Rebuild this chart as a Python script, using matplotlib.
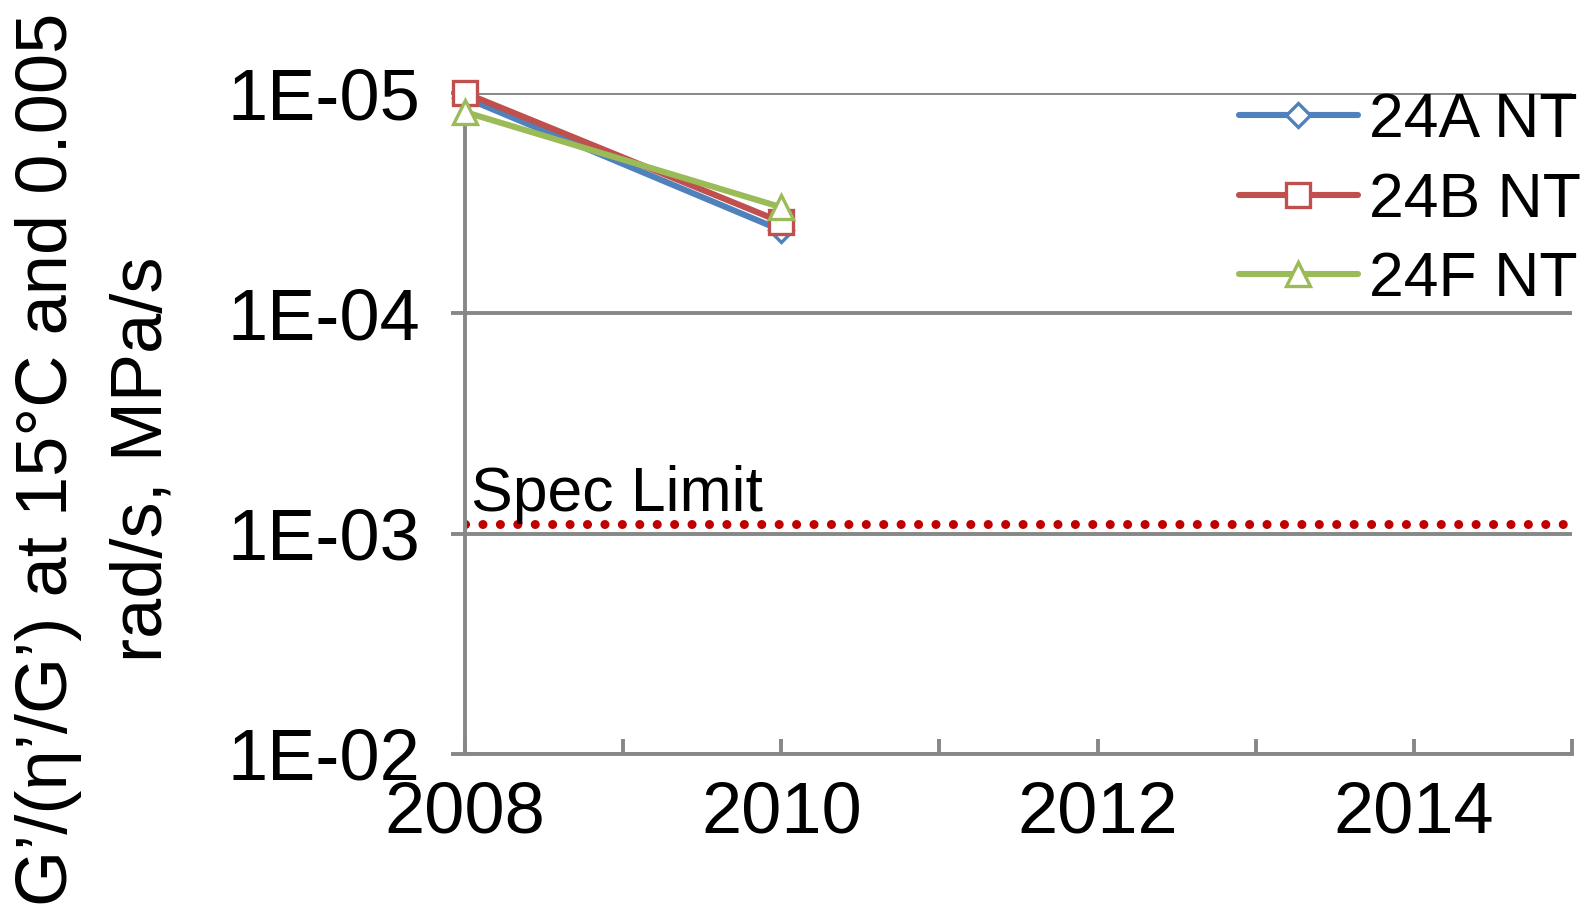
import matplotlib
matplotlib.use("Agg")
import matplotlib.pyplot as plt
from matplotlib.ticker import FixedLocator, MultipleLocator, FuncFormatter

plt.rcParams['font.family'] = ['Liberation Sans', 'DejaVu Sans']

# ---- data ----
series_names = ["24A NT", "24B NT", "24F NT"]
years = [2008, 2010]
values_24A = [1.05e-5, 4.2e-5]
values_24B = [1.0e-5, 3.85e-5]
values_24F = [1.22e-5, 3.3e-5]
spec_limit = 9.0e-4
spec_label = "Spec Limit"
y_ticks = [1e-5, 1e-4, 1e-3, 1e-2]
x_major = [2008, 2010, 2012, 2014]
ylabel = "G’/(η’/G’) at 15°C and 0.005\nrad/s, MPa/s"

colors = ["#4F81BD", "#C0504D", "#9BBB59"]
markers = ["D", "s", "^"]
msizes = [12, 17, 17]
grid_col = "#878787"

fig = plt.figure(figsize=(15.92, 9.14), dpi=100)
ax = fig.add_axes([465/1592, 1-754/914, 1107/1592, (754-93)/914])

for vals, name, c, m, ms in zip([values_24A, values_24B, values_24F], series_names, colors, markers, msizes):
    ax.plot(years, vals, color=c, lw=4.4, marker=m, ms=ms, mfc="white", mec=c, mew=2.4,
            solid_capstyle="round", label=name, zorder=3, clip_on=False)

ax.axhline(spec_limit, color="#C00000", lw=6.5, linestyle=(0, (0.01, 1.92)),
           dash_capstyle="round", zorder=2.5)
ax.text(2008.04, spec_limit, spec_label, fontsize=45, ha="left", va="bottom",
        transform=ax.transData)

ax.set_yscale("log")
ax.set_ylim(1e-2, 1e-5)
ax.set_xlim(2008, 2015)
ax.yaxis.set_major_locator(FixedLocator(y_ticks))
ax.yaxis.set_minor_locator(FixedLocator([]))
ax.yaxis.set_major_formatter(FuncFormatter(lambda v, p: f"{v:.0E}"))
ax.xaxis.set_major_locator(FixedLocator(x_major))
ax.xaxis.set_minor_locator(MultipleLocator(1))
ax.xaxis.set_major_formatter(FuncFormatter(lambda v, p: f"{int(round(v))}"))

ax.grid(axis="y", color=grid_col, lw=2.8, zorder=0)
ax.set_axisbelow(True)
for s in ["top", "right"]:
    ax.spines[s].set_visible(False)
for s in ["left", "bottom"]:
    ax.spines[s].set_color(grid_col)
    ax.spines[s].set_linewidth(2.8)

ax.tick_params(axis="y", which="major", direction="out", length=10, width=2.8,
               color=grid_col, labelsize=52, pad=22)
ax.tick_params(axis="x", which="both", direction="in", length=11, width=2.8,
               color=grid_col, labelsize=52, pad=19)

fig.text(0.060, 0.497, ylabel, rotation=90, ha="center", va="center",
         multialignment="center", fontsize=52, linespacing=1.52)

leg = ax.legend(loc="upper left", bbox_to_anchor=(1239/1592, 1-91/914),
                bbox_transform=fig.transFigure, frameon=False, fontsize=45,
                borderpad=0, borderaxespad=0, handlelength=1.9, handletextpad=0.18,
                labelspacing=0.33)

fig.savefig("out.png", dpi=100)
